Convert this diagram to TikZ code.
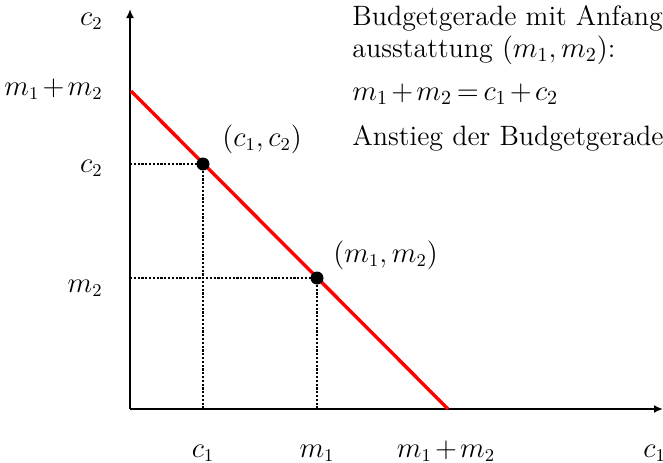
\documentclass[tikz,border=0pt]{standalone}
\usepackage{amsmath}
\usepackage{tikz}
\usetikzlibrary{arrows.meta,positioning,calc}
\definecolor{budgetred}{RGB}{255,0,0}
\colorlet{figink}{black}
% tighter spacing round + and =, as in the figure
\newcommand{\tightmath}{\medmuskip=2mu\thickmuskip=3mu}

\begin{document}
\begin{tikzpicture}[
  x=0.5pt, y=0.5pt,
  font=\fontsize{13.5}{16}\selectfont\tightmath,
  axis/.style={draw=figink, line width=1.2pt, -{Latex[length=4.5pt,width=4pt]}},
  budget/.style={draw=budgetred, line width=1.7pt},
  guide/.style={draw=figink, line width=1.2pt, dash pattern=on 1.1pt off 0.8pt},
  pt/.style={circle, fill=figink, minimum size=6.5pt, inner sep=0pt},
  lab/.style={inner sep=0pt},
  note/.style={inner sep=0pt, anchor=base west, font=\fontsize{14}{17}\selectfont\tightmath},
]
  \useasboundingbox (-130,-53) rectangle (533,409);
  % axes
  \coordinate (O) at (0,0);
  \coordinate (Xend) at (533,0);
  \coordinate (Yend) at (0,400);
  \draw[axis] (O) -- (Xend);
  \draw[axis] (O) -- (Yend);
  % budget line, both intercepts at m_1+m_2
  \coordinate (Ytop) at (1,318);
  \coordinate (Xtop) at (318,0);
  \draw[budget] (Ytop) -- (Xtop);
  % chosen bundle C and endowment M, with guides to the axes
  \foreach \p/\x/\y in {C/73/245, M/187/131} {
    \coordinate (\p x) at (\x,0);
    \coordinate (\p y) at (0,\y);
    \draw[guide] (\p y) -- (\x,\y) -- (\p x);
    \node[pt] (\p) at (\x,\y) {};
  }
  % axis labels
  \node[lab, anchor=base east] (Ly) at (-27,384) {$c_2$};
  \node[lab, anchor=base east] (Lsum) at (-27,314) {$m_1+m_2$};
  \node[lab, anchor=base east] (Lc2) at (-27,237) {$c_2$};
  \node[lab, anchor=base east] (Lm2) at (-27,117) {$m_2$};
  \foreach \n/\x/\lab in {Lc1/73/{c_1}, Lm1/187/{m_1}, Lsumx/316/{m_1+m_2}} {
    \node[lab, anchor=base] (\n) at (\x,-48) {$\lab$};
  }
  \node[lab, anchor=base west] (Lx) at (513,-48) {$c_1$};
  % point labels
  \node[lab, anchor=base west] (LC) at (92,263) {$(c_1,c_2)$};
  \node[lab, anchor=base west] (LM) at (203,147) {$(m_1,m_2)$};
  % explanation
  \node[note] (T1) at (222,384) {Budgetgerade mit Anfang};
  \node[note] (T2) at (222,352) {ausstattung $(m_1,m_2)$:};
  \node[note] (T3) at (222,309) {$m_1+m_2=c_1+c_2$};
  \node[note] (T4) at (222,264) {Anstieg der Budgetgerade};
\end{tikzpicture}
\end{document}
